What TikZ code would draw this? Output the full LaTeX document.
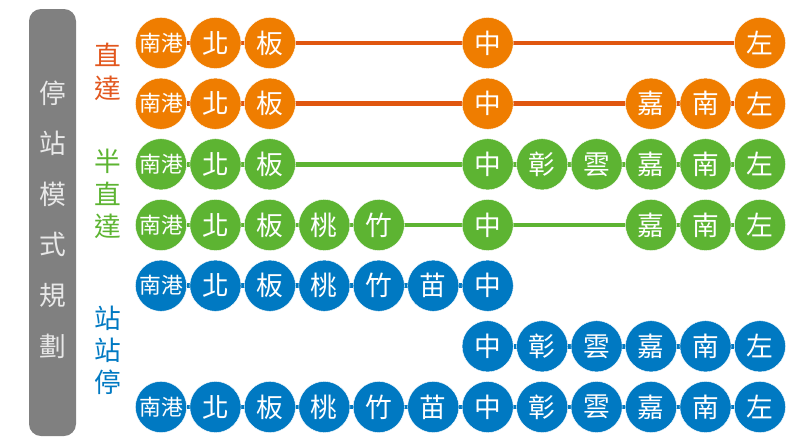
\documentclass[tikz,border=0pt]{standalone}
\usepackage{fontspec}
\newfontfamily\cjk{Noto Sans CJK TC}
\usetikzlibrary{backgrounds}

\definecolor{orangestop}{HTML}{EF7D00}
\definecolor{orangeline}{HTML}{E0560F}
\definecolor{orangetext}{HTML}{E2571E}
\definecolor{greenstop}{HTML}{5DB432}
\definecolor{bluestop}{HTML}{0079C2}
\definecolor{barfill}{HTML}{808080}
\definecolor{bartext}{HTML}{E8E8E8}

\newcommand{\twochar}[1]{{\fontsize{15.5}{15.5}\selectfont #1}}

\begin{document}
\begin{tikzpicture}[
    x=0.025cm, y=-0.025cm,
    font=\cjk\fontsize{19}{19}\selectfont,
    % Estilos
    stop/.style={circle, minimum size=1.28cm, inner sep=0pt, text=white, draw=white, line width=0.3pt},
    ostop/.style={stop, fill=orangestop},
    gstop/.style={stop, fill=greenstop},
    bstop/.style={stop, fill=bluestop},
    link/.style={line width=3.2pt},
    modelabel/.style={font=\cjk\fontsize{19}{19}\selectfont, inner sep=0pt},
    bartitle/.style={font=\cjk\fontsize{19}{19}\selectfont, text=bartext, inner sep=0pt}
]
\useasboundingbox (0,0) rectangle (792,437);

% -------------------------
% Barra lateral
% -------------------------
\fill[barfill, rounded corners=0.3cm] (29,9) rectangle (76,436);
\foreach \i/\ch in {0/停, 1/站, 2/模, 3/式, 4/規, 5/劃}
    \node[bartitle] (bar\i) at (52.5, 93+50.6*\i) {\ch};

% -------------------------
% Etiquetas de modo
% -------------------------
\node[modelabel, text=orangetext] (zhi1) at (108,55) {直};
\node[modelabel, text=orangetext] (da1) at (108,88) {達};
\node[modelabel, text=greenstop] (ban2) at (108,161) {半};
\node[modelabel, text=greenstop] (zhi2) at (108,194) {直};
\node[modelabel, text=greenstop] (da2) at (108,226) {達};
\node[modelabel, text=bluestop] (zhan3) at (108,318) {站};
\node[modelabel, text=bluestop] (zhanb3) at (108,350) {站};
\node[modelabel, text=bluestop] (ting3) at (108,382) {停};

% -------------------------
% Estaciones
% -------------------------
\foreach \c/\t in {0/\twochar{南港}, 1/北, 2/板, 6/中, 11/左}
    \node[ostop] (a\c) at (161+54.45*\c, 43) {\t};
\foreach \c/\t in {0/\twochar{南港}, 1/北, 2/板, 6/中, 9/嘉, 10/南, 11/左}
    \node[ostop] (b\c) at (161+54.45*\c, 103.7) {\t};
\foreach \c/\t in {0/\twochar{南港}, 1/北, 2/板, 6/中, 7/彰, 8/雲, 9/嘉, 10/南, 11/左}
    \node[gstop] (c\c) at (161+54.45*\c, 164.3) {\t};
\foreach \c/\t in {0/\twochar{南港}, 1/北, 2/板, 3/桃, 4/竹, 6/中, 9/嘉, 10/南, 11/左}
    \node[gstop] (d\c) at (161+54.45*\c, 225) {\t};
\foreach \c/\t in {0/\twochar{南港}, 1/北, 2/板, 3/桃, 4/竹, 5/苗, 6/中}
    \node[bstop] (e\c) at (161+54.45*\c, 285.7) {\t};
\foreach \c/\t in {6/中, 7/彰, 8/雲, 9/嘉, 10/南, 11/左}
    \node[bstop] (f\c) at (161+54.45*\c, 346.3) {\t};
\foreach \c/\t in {0/\twochar{南港}, 1/北, 2/板, 3/桃, 4/竹, 5/苗, 6/中, 7/彰, 8/雲, 9/嘉, 10/南, 11/左}
    \node[bstop] (g\c) at (161+54.45*\c, 407) {\t};

% Conexiones
\begin{scope}[on background layer]
    \draw[link, orangeline] (a0) -- (a11);
    \draw[link, orangeline] (b0) -- (b11);
    \draw[link, greenstop] (c0) -- (c11);
    \draw[link, greenstop] (d0) -- (d11);
    \draw[link, bluestop] (e0) -- (e6);
    \draw[link, bluestop] (f6) -- (f11);
    \draw[link, bluestop] (g0) -- (g11);
\end{scope}

\end{tikzpicture}
\end{document}
